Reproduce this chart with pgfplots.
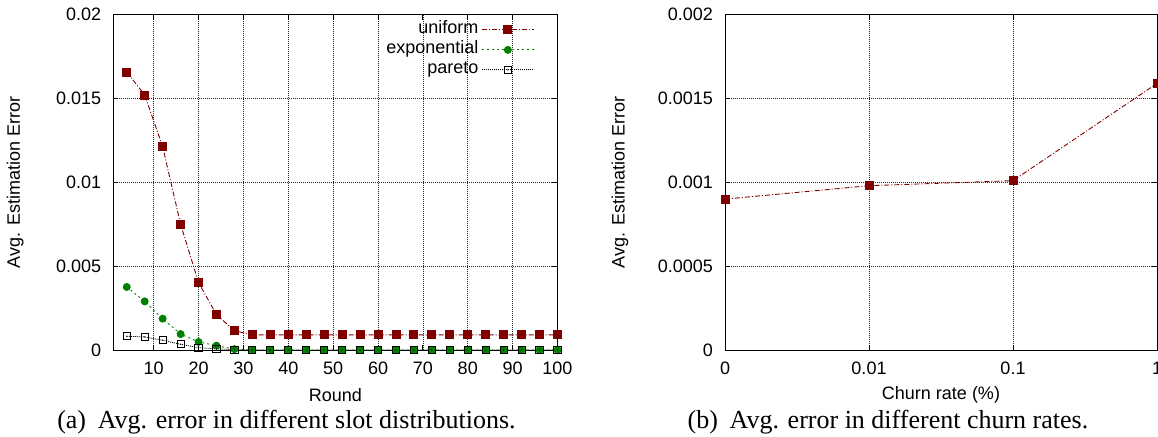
\documentclass[border=0pt]{standalone}
\usepackage{fontspec}
\setmainfont{Liberation Sans}
\newfontfamily\capfont{Liberation Serif}
\usepackage{pgfplots}
\usepackage{pgfplotstable}
\pgfplotsset{compat=1.18}

\definecolor{gpred}{RGB}{128,0,0}
\definecolor{gpgreen}{RGB}{0,128,0}

% open square with a dot in the middle
\pgfdeclareplotmark{sqdot}{%
  \pgfpathrectangle{\pgfpoint{-\pgfplotmarksize}{-\pgfplotmarksize}}%
    {\pgfpoint{2\pgfplotmarksize}{2\pgfplotmarksize}}%
  \pgfusepathqstroke
  \pgfpathcircle{\pgfpointorigin}{0.7bp}%
  \pgfusepathqfill}

\pgfplotstableread{
x   uniform  exponential pareto
4   0.01658  0.00376     0.00082
8   0.01521  0.00290     0.00078
12  0.01213  0.00187     0.00058
16  0.00750  0.00095     0.00034
20  0.00402  0.00048     0.00014
24  0.00211  0.00026     0.00007
28  0.00115  0.00005     0.00002
32  0.00090  0           0
36  0.00090  0           0
40  0.00090  0           0
44  0.00090  0           0
48  0.00090  0           0
52  0.00090  0           0
56  0.00090  0           0
60  0.00090  0           0
64  0.00090  0           0
68  0.00090  0           0
72  0.00090  0           0
76  0.00090  0           0
80  0.00090  0           0
84  0.00090  0           0
88  0.00090  0           0
92  0.00090  0           0
96  0.00090  0           0
100 0.00090  0           0
}\slotdata

\pgfplotstableread{
x err
0 0.00090
1 0.00098
2 0.00101
3 0.00159
}\churndata

\pgfplotsset{
  gp/.style={
    scale only axis, height=335.3bp,
    font=\fontsize{18bp}{21bp}\selectfont,
    /pgf/number format/assume math mode=true,
    axis line style={line width=1bp},
    tick style={line width=0.8bp, black},
    tick align=inside, major tick length=5bp,
    grid=major,
    major grid style={line width=0.6bp, black!85, dash pattern=on 0.8bp off 1.2bp},
    xticklabel style={inner sep=0pt, yshift=-12bp},
    yticklabel style={inner sep=0pt, xshift=-12bp},
    scaled y ticks=false,
    xlabel style={at={(axis description cs:0.5,0)}, anchor=center, yshift=-45bp},
    ymin=0,
  },
  udash/.style={dash pattern=on 5bp off 2bp on 1bp off 2bp},
  legend image code/.code={%
    \draw[mark repeat=2, mark phase=2] plot coordinates {(0bp,0bp) (26bp,0bp) (52bp,0bp)};},
}

\begin{document}
\begin{tikzpicture}
\begin{axis}[gp,
  width=444.2bp,
  xmin=1, xmax=100,
  xtick={10,20,...,100},
  xticklabels={10,20,30,40,50,60,70,80,90,100},
  ymax=0.02,
  ytick={0,0.005,0.01,0.015,0.02},
  yticklabels={0,0.005,0.01,0.015,0.02},
  xlabel={Round},
  ylabel={Avg. Estimation Error},
  ylabel style={at={(axis description cs:-0.2206,0.5)}, anchor=center},
  legend plot pos=right,
  legend cell align=right,
  legend style={draw=none, fill=none, at={(1,1)}, anchor=north east,
    xshift=-20bp, yshift=-3bp, row sep=0bp, column sep=2bp,
    nodes={inner sep=1bp, text height=13bp, text depth=5bp},
    font=\fontsize{18bp}{21bp}\selectfont},
]
\addplot[gpred, line width=0.9bp, udash, mark=square*, mark size=4bp,
  mark options={solid}] table[x=x, y=uniform] {\slotdata};
\addlegendentry{uniform}
\addplot[gpgreen, line width=0.9bp, dash pattern=on 2bp off 3bp, mark=*, mark size=3.5bp,
  mark options={solid}] table[x=x, y=exponential] {\slotdata};
\addlegendentry{exponential}
\addplot[black, line width=0.8bp, dash pattern=on 1bp off 1bp, mark=sqdot, mark size=3.6bp,
  mark options={solid, line width=1bp}] table[x=x, y=pareto] {\slotdata};
\addlegendentry{pareto}
\end{axis}

\begin{axis}[gp,
  at={(611.7bp,0bp)},
  width=432bp,
  xmin=0, xmax=3,
  xtick={0,1,2,3},
  xticklabels={0,0.01,0.1,1},
  ymax=0.002,
  ytick={0,0.0005,0.001,0.0015,0.002},
  yticklabels={0,0.0005,0.001,0.0015,0.002},
  xlabel={Churn rate (\%)},
  ylabel={Avg. Estimation Error},
  ylabel style={at={(axis description cs:-0.243,0.5)}, anchor=center},
]
\addplot[gpred, line width=0.9bp, udash, mark=square*, mark size=4bp,
  mark options={solid}] table[x=x, y=err] {\churndata};
\end{axis}

\node[font=\capfont\fontsize{26bp}{30bp}\selectfont, anchor=base]
  at (173.2bp,-78bp) {(a)\hspace{0.45em}Avg. error in different slot distributions.};
\node[font=\capfont\fontsize{26bp}{30bp}\selectfont, anchor=base]
  at (774.7bp,-78bp) {(b)\hspace{0.45em}Avg. error in different churn rates.};

\pgfresetboundingbox
\path[use as bounding box] (-113.3bp,-87bp) rectangle (1044.7bp,350bp);
\end{tikzpicture}
\end{document}
